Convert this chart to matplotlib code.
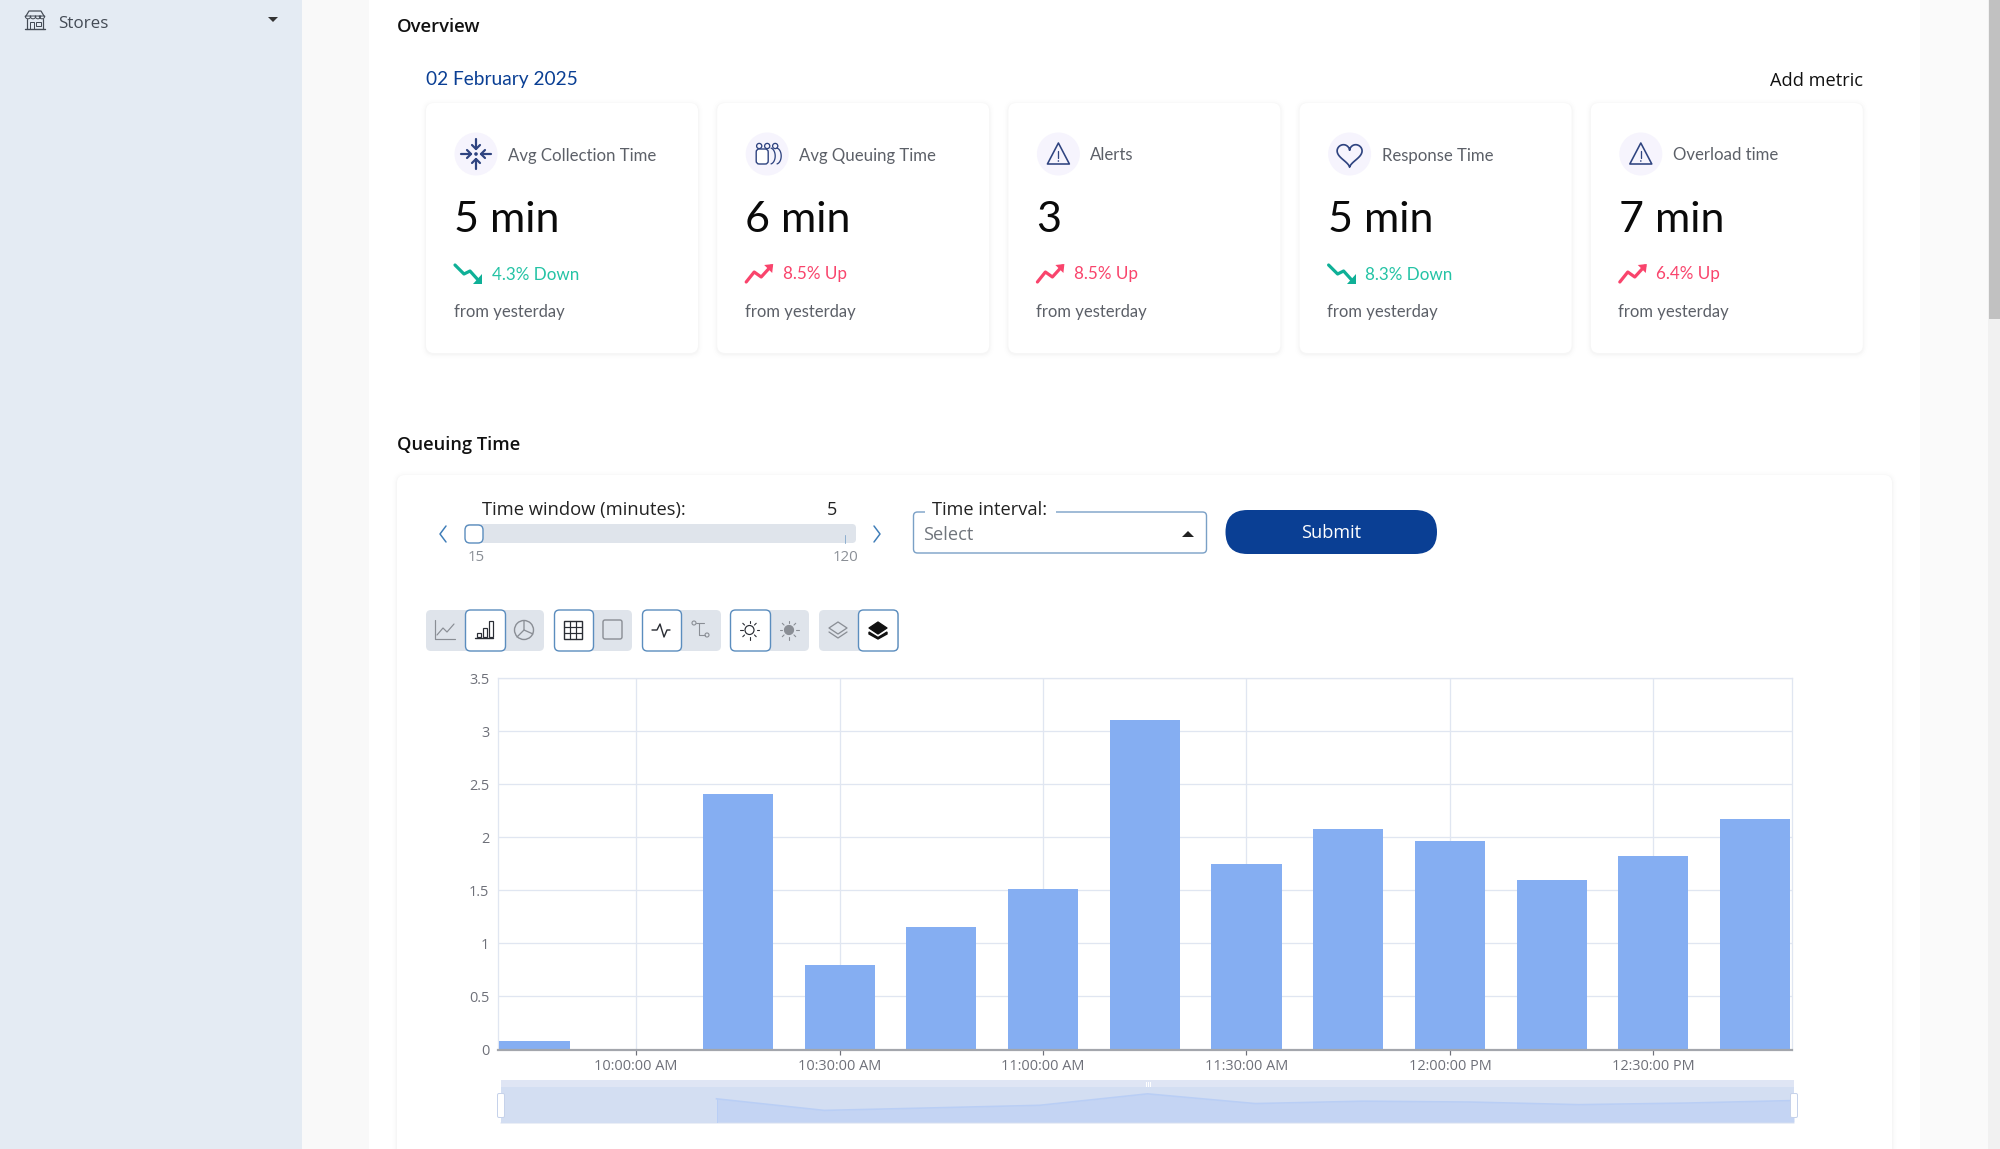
import numpy as np
import matplotlib
matplotlib.use("Agg")
import matplotlib.pyplot as plt
from matplotlib.patches import FancyBboxPatch, Rectangle, Circle, Polygon, Wedge
from matplotlib.lines import Line2D
from matplotlib.transforms import ScaledTranslation

# ---------- data ----------
bar_times = ["09:45","10:00","10:15","10:30","10:45","11:00","11:15","11:30","11:45","12:00","12:15","12:30","12:45"]
queue_values = [0.08,0.0,2.41,0.8,1.15,1.51,3.1,1.75,2.08,1.96,1.6,1.82,2.17]
tick_times = ["10:00","10:30","11:00","11:30","12:00","12:30"]
tick_labels = ["10:00:00 AM","10:30:00 AM","11:00:00 AM","11:30:00 AM","12:00:00 PM","12:30:00 PM"]
y_ticks = [0,0.5,1,1.5,2,2.5,3,3.5]
y_labels = ["0","0.5","1","1.5","2","2.5","3","3.5"]
card_titles = ["Avg Collection Time","Avg Queuing Time","Alerts","Response Time","Overload time"]
card_values = ["5 min","6 min","3","5 min","7 min"]
card_changes = ["4.3% Down","8.5% Up","8.5% Up","8.3% Down","6.4% Up"]
card_icons = ["collect","queue","alert","heart","alert"]

W,H = 2000,1149
UI = "Lato"; UI2 = "Open Sans"
NAVY="#2F4480"; BLUE="#0A3F94"; GREEN="#17B99A"; RED="#F9446C"; GREY="#5C6068"
fig = plt.figure(figsize=(W/100,H/100),dpi=100,facecolor="white")
ui = fig.add_axes([0,0,1,1],zorder=0); ui.set_xlim(0,W); ui.set_ylim(H,0); ui.axis("off")

def px(v): return v*0.72
def rect(x0,y0,x1,y1,fc,**k):
    ui.add_patch(Rectangle((x0,y0),x1-x0,y1-y0,fc=fc,ec="none",**k))
def rrect(x0,y0,x1,y1,r,fc,ec="none",lw=0,z=2,alpha=None):
    ui.add_patch(FancyBboxPatch((x0+r,y0+r),x1-x0-2*r,y1-y0-2*r,boxstyle=f"round,pad={r}",fc=fc,ec=ec,lw=px(lw),zorder=z,alpha=alpha))
def line(xs,ys,c,lw=1.5,z=5,**k):
    ui.add_line(Line2D(xs,ys,color=c,lw=px(lw),zorder=z,solid_capstyle=k.pop("cap","round"),solid_joinstyle="round",**k))
def txt(x,y,s,size,c="#111",ha="left",fam=UI,w="normal",z=6):
    ui.text(x,y,s,fontsize=px(size),color=c,ha=ha,va="baseline",family=fam,fontweight=w,zorder=z)
def shadow(x0,y0,x1,y1,r):
    for d,a in [(5,.005),(3.5,.007),(2,.010),(1,.012)]:
        rrect(x0-d,y0-d+1,x1+d,y1+d+1,r+d,"#000000",z=1.5,alpha=a)

# ---------- page background ----------
rect(0,0,302,H,"#E4EBF3")
rect(302,0,369,H,"#F9F9F9")
rect(369,0,1920,H,"#FFFFFF")
rect(1920,0,1988,H,"#FAFAFA")
rect(1988,0,2000,H,"#F1F1F1")
rect(1989,0,2000,319,"#C1C1C1")

# sidebar item
c="#444B55"
line([27,27],[19,29],c,1.2); line([43,43],[19,29],c,1.2); line([25,45],[29,29],c,1.4)
line([26,29,41,44],[16,11,11,16],c,1.2)
for xx in (28,33,38,42):
    ui.add_patch(Wedge((xx,16),2.8,0,180,fc="none",ec=c,lw=px(1),zorder=5))
ui.add_patch(Rectangle((30,22),4,7,fc="none",ec=c,lw=px(1),zorder=5))
ui.add_patch(Rectangle((36,22),5,4,fc="none",ec=c,lw=px(1),zorder=5))
txt(58,27.5,"Stores",17,"#444B55",fam=UI2)
ui.add_patch(Polygon([[268,17],[278,17],[273,22]],fc="#333",ec="none",zorder=5))

# headers
txt(397,31.5,"Overview",18.5,"#111",w="semibold",fam=UI2)
txt(425.5,85.5,"02 February 2025",19.1,BLUE)
txt(1863,85.5,"Add metric",18.3,"#111",ha="right",fam=UI2)
txt(397,450.5,"Queuing Time",18.3,"#111",w="semibold",fam=UI2)

# ---------- icons ----------
def icon_collect(cx,cy):
    for dx,dy in [(1,0),(-1,0),(0,1),(0,-1)]:
        line([cx+dx*15,cx+dx*5],[cy+dy*15,cy+dy*5],NAVY,2.2)
        nx,ny=-dy,dx
        line([cx+dx*9+nx*4,cx+dx*5,cx+dx*9-nx*4],[cy+dy*9+ny*4,cy+dy*5,cy+dy*9-ny*4],NAVY,2.2)
    ui.add_patch(Circle((cx,cy),1.8,fc=NAVY,ec="none",zorder=5))
def icon_queue(cx,cy):
    for dx in (-8,0,8):
        ui.add_patch(Circle((cx+dx,cy-8),2.6,fc="none",ec=NAVY,lw=px(1.3),zorder=5))
    ui.add_patch(FancyBboxPatch((cx-8,cy-2),6,9,boxstyle="round,pad=3",fc="white",ec=NAVY,lw=px(1.4),zorder=5))
    t=np.linspace(-1.4,1.4,20)
    for off in (6,12):
        line(cx+off-3+5*np.cos(t),cy+2+8*np.sin(t),NAVY,1.3)
def icon_alert(cx,cy):
    ui.add_patch(Polygon([[cx,cy-11],[cx+11,cy+10],[cx-11,cy+10]],closed=True,fc="none",ec=NAVY,lw=px(1.6),joinstyle="round",zorder=5))
    line([cx,cx],[cy-3,cy+4],NAVY,1.3); ui.add_patch(Circle((cx,cy+7),.8,fc=NAVY,ec="none",zorder=5))
def icon_heart(cx,cy):
    t=np.linspace(0,2*np.pi,80)
    x=16*np.sin(t)**3; y=13*np.cos(t)-5*np.cos(2*t)-2*np.cos(3*t)-np.cos(4*t)
    line(cx+x*.78,cy-y*.78,NAVY,1.7)
icons=dict(collect=icon_collect,queue=icon_queue,alert=icon_alert,heart=icon_heart)
def trend(x,y,up):
    if up:
        line([x,x+8,x+15,x+25],[y+17,y+7,y+12,y+1],RED,3.2)
        ui.add_patch(Polygon([[x+18,y],[x+27,y-1],[x+26,y+8]],fc=RED,ec="none",zorder=5))
    else:
        line([x,x+9,x+15,x+24],[y,y+9,y+6,y+16],"#0FB097",3.2)
        ui.add_patch(Polygon([[x+18,y+18.5],[x+27,y+18.5],[x+27,y+9]],fc="#0FB097",ec="none",zorder=5))

# ---------- metric cards ----------
for i,(title,val,chg,ic) in enumerate(zip(card_titles,card_values,card_changes,card_icons)):
    x0=426+291.2*i; x1=x0+272
    shadow(x0,103,x1,353,8); rrect(x0,103,x1,353,8,"white",z=2)
    ui.add_patch(Circle((x0+50,154),21.5,fc="#F6F4FD",ec="none",zorder=3))
    icons[ic](x0+50,154)
    txt(x0+82,160.5,title,16.7,"#5C6068")
    txt(x0+28,232,val,43,"#0A0A0A")
    up="Up" in chg
    trend(x0+29,265,up)
    txt(x0+65.5,279.5,chg,17,RED if up else "#24C3A5")
    txt(x0+27.5,316.5,"from yesterday",16.6,"#5C6068")

# ---------- chart card ----------
shadow(397,475,1892,1300,8); rrect(397,475,1892,1300,8,"white",z=2)

# slider
txt(482.5,515,"Time window (minutes):",18.4,"#222",fam=UI2)
txt(832,515,"5",18,"#222",ha="center",fam=UI2)
rrect(465,524,856,543,4,"#DFE4EB",z=3)
rrect(465,525,483,543,5,"white",ec="#5B8DBE",lw=1.4,z=4)
line([845,845],[535,543],"#8FB0D0",1)
txt(476,561,"15",15,"#8A8F96",ha="center",fam=UI2)
txt(845.5,561,"120",15,"#8A8F96",ha="center",fam=UI2)
line([446,440,446],[526,534,542],"#3F7DB8",1.5)
line([874,880,874],[526,534,542],"#3F7DB8",1.5)
# select
rrect(913.5,512,1206.5,553,4,"white",ec="#7AA0C6",lw=1.4,z=3)
rect(925,505,1056,518,"white",zorder=4)
txt(932,515,"Time interval:",18.3,"#222",fam=UI2)
txt(923,539.5,"Select",18.3,"#70757C",fam=UI2)
ui.add_patch(Polygon([[1182,537],[1194,537],[1188,531]],fc="#222",ec="none",zorder=5))
# submit
rrect(1225.5,510,1437,554,22,BLUE,z=3)
txt(1331,538,"Submit",18.3,"white",ha="center",fam=UI2)

# ---------- toolbar ----------
T0,T1=610,651
groups=[(426,544,465.5,505.5),(554,632,554.5,593.5),(642,721,642.5,681.5),(730,809,730.5,770.5),(819,899,858.5,898)]
for g0,g1,s0,s1 in groups:
    rrect(g0,T0,g1,T1,5,"#DFE4EB",z=3)
    rrect(s0,T0,s1,T1,5,"white",ec="#5B8DBE",lw=1.4,z=4)
ON="#2A2D34"; OFF="#8A8E95"; CY=630
# line chart
line([435,435,455],[620,639,639],OFF,1.2); line([437,443,447,454],[635,628,632,624],OFF,1.2)
# bars
for xx,hh in [(478,4),(484,9),(490,16)]:
    ui.add_patch(Rectangle((xx-1.5,637-hh),4.5,hh,fc="none",ec=ON,lw=px(1.2),zorder=6))
line([475,493],[638,638],ON,1.4,z=6)
# pie
ui.add_patch(Circle((524,630),9.5,fc="none",ec=OFF,lw=px(1.4),zorder=6)); line([524,524,533],[620.5,630,634],OFF,1.3,z=6); line([524,517],[630,637],OFF,1.3,z=6)
# grid
ui.add_patch(Rectangle((564,621),18,18,fc="none",ec=ON,lw=px(1.4),zorder=6))
for d in (6,12):
    line([564+d]*2,[621,639],ON,1.2,z=6); line([564,582],[621+d]*2,ON,1.2,z=6)
# box
ui.add_patch(FancyBboxPatch((605,622),15,15,boxstyle="round,pad=2",fc="none",ec=OFF,lw=px(1.4),zorder=6))
# pulse
line([652,657,660,664,667,670],[630,630,624,637,630,630],ON,1.4,z=6)
# nodes
ui.add_patch(Circle((694,623),2,fc="none",ec=OFF,lw=px(1.1),zorder=6)); ui.add_patch(Circle((707,635),2,fc="none",ec=OFF,lw=px(1.1),zorder=6))
line([696,704],[623,623],OFF,1.1,z=6); line([699,699,705],[623,635,635],OFF,1.1,z=6)
# suns
def sun(cx,c,filled):
    ui.add_patch(Circle((cx,CY),4.5,fc=c if filled else "none",ec=c,lw=px(1.2),zorder=6))
    for a in np.arange(0,360,45):
        ca,sa=np.cos(np.radians(a)),np.sin(np.radians(a))
        line([cx+7*ca,cx+9.5*ca],[CY+7*sa,CY+9.5*sa],c,1.1,z=6)
sun(749.5,ON,False); sun(789,OFF,True)
# layers
def layers(cx,c,filled):
    ui.add_patch(Polygon([[cx,622],[cx+9,628],[cx,634],[cx-9,628]],fc=c if filled else "none",ec=c,lw=px(1.3),zorder=7,joinstyle="round"))
    if filled:
        ui.add_patch(Polygon([[cx-9,632],[cx,637.5],[cx+9,632],[cx+9,634],[cx,639],[cx-9,634]],fc=c,ec=c,lw=1,zorder=7))
    else:
        line([cx-9,cx,cx+9],[632,638,632],c,1.3,z=7)
layers(838,OFF,False); layers(878,"#111",True)

# ---------- main chart ----------
def hhmm(s):
    h,m=s.split(":"); return int(h)*60+int(m)
def axes_px(x0,y0,x1,y1,z):
    return fig.add_axes([x0/W,1-y1/H,(x1-x0)/W,(y1-y0)/H],zorder=z)
ax=axes_px(497.5,678,1792,1049.5,3)
ax.patch.set_alpha(0)
x_bar=[hhmm(s) for s in bar_times]
ax.bar(x_bar,queue_values,width=10.35,color="#85AEF2",zorder=3)
ax.set_xlim(579.55,770.45); ax.set_ylim(0,3.5)
ax.set_xticks([hhmm(s) for s in tick_times]); ax.set_xticklabels(tick_labels,family=UI2,fontsize=px(14.5),color="#6E7079")
ax.set_yticks(y_ticks); ax.set_yticklabels(y_labels,family=UI2,fontsize=px(14.5),color="#6E7079")
shift=ScaledTranslation(0,2/100,fig.dpi_scale_trans)
for lab in ax.get_yticklabels():
    lab.set_transform(lab.get_transform()+shift)
ax.grid(True,color="#E0E6F1",lw=px(1.3),zorder=0)
ax.set_axisbelow(True)
ax.tick_params(axis="y",length=0,pad=6)
ax.tick_params(axis="x",length=px(5),width=px(1.2),color="#6E7079",pad=3)
for s in ("top","left","right"):
    ax.spines[s].set_color("#E0E6F1"); ax.spines[s].set_linewidth(px(1.3))
ax.spines["bottom"].set_color("#A3A6AC"); ax.spines["bottom"].set_linewidth(px(2.2)); ax.spines["bottom"].set_zorder(5)

# ---------- data-zoom strip ----------
rect(501,1080,1794,1087,"#DFE5F4",zorder=3)
mini=axes_px(501,1087,1794,1123,3)
mini.set_facecolor("#D3DEF2")
idx=np.arange(len(queue_values))[2:]
vals=np.array(queue_values)[2:]
mini.fill_between(idx,-0.8,vals,color="#C4D4F3",lw=0,zorder=2)
mini.plot(idx,vals,color="#B9CEF5",lw=px(1.6),zorder=3)
mini.plot([idx[0],idx[0]],[-0.8,vals[0]],color="#B9CEF5",lw=px(1),zorder=3)
mini.set_xlim(0,len(queue_values)-1); mini.set_ylim(-0.95,4.05)
mini.set_xticks([]); mini.set_yticks([])
for s in mini.spines.values(): s.set_visible(False)
line([501,1794],[1123,1123],"#E4E9F4",1.5,z=4)
over=fig.add_axes([0,0,1,1],zorder=5); over.set_xlim(0,W); over.set_ylim(H,0); over.axis("off"); over.patch.set_alpha(0)
for hx in (501,1794):
    over.add_patch(FancyBboxPatch((hx-2,1095),4,21,boxstyle="round,pad=1.5",fc="white",ec="#C6D2EA",lw=px(1)))
for d in (-2,0,2):
    over.plot([1148+d,1148+d],[1082,1086],color="white",lw=px(1))

fig.savefig("out.png",dpi=100)
